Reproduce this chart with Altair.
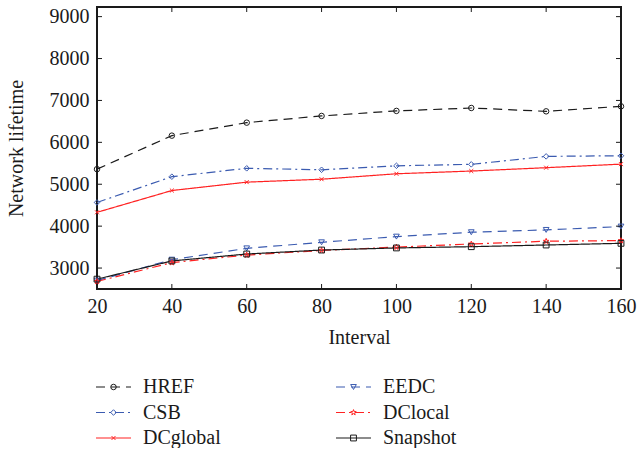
import altair as alt
import pandas as pd

intervals = [20, 40, 60, 80, 100, 120, 140, 160]
series_names = ["HREF", "CSB", "DCglobal", "EEDC", "DClocal", "Snapshot"]
href = [5360, 6160, 6470, 6630, 6750, 6820, 6740, 6860]
csb = [4565, 5180, 5380, 5345, 5440, 5475, 5665, 5680]
dcglobal = [4330, 4850, 5050, 5120, 5250, 5315, 5395, 5480]
eedc = [2700, 3200, 3470, 3615, 3750, 3855, 3910, 3990]
dclocal = [2680, 3130, 3310, 3420, 3500, 3575, 3640, 3655]
snapshot = [2735, 3170, 3335, 3430, 3480, 3510, 3550, 3590]
y_ticks = [3000, 4000, 5000, 6000, 7000, 8000, 9000]
x_ticks = [20, 40, 60, 80, 100, 120, 140, 160]

values = [href, csb, dcglobal, eedc, dclocal, snapshot]
rows = []
for name, vals in zip(series_names, values):
    for x, v in zip(intervals, vals):
        rows.append({"series": name, "interval": x, "lifetime": v})
df = pd.DataFrame(rows)

BLACK = "#1a1a1a"
BLUE = "#3b5bb0"
RED = "#ff2222"
colors = [BLACK, BLUE, RED, BLUE, RED, BLACK]
dashes = [[9, 6], [9, 4, 2, 4], [1, 0], [9, 6], [9, 4, 2, 4], [1, 0]]
STAR = "M0,-1L0.235,-0.324L0.951,-0.309L0.38,0.124L0.588,0.809L0,0.4L-0.588,0.809L-0.38,0.124L-0.951,-0.309L-0.235,-0.324Z"
XSHAPE = "M-0.7,-0.7L0.7,0.7M-0.7,0.7L0.7,-0.7"
shapes = ["circle", "diamond", XSHAPE, "triangle-down", STAR, "square"]
sizes = [30, 34, 30, 34, 55, 30]

FONT = "Liberation Serif"
FS = 20
W, H = 524, 282
XD = [20, 160]
YD = [2500, 9230]

color_s = alt.Color("series:N", scale=alt.Scale(domain=series_names, range=colors), legend=None)
dash_s = alt.StrokeDash("series:N", scale=alt.Scale(domain=series_names, range=dashes), legend=None)
shape_s = alt.Shape("series:N", scale=alt.Scale(domain=series_names, range=shapes), legend=None)
size_s = alt.Size("series:N", scale=alt.Scale(domain=series_names, range=sizes), legend=None)

axis_common = dict(tickSize=0, grid=False, domain=False, labelFlush=False, labelOverlap=False,
                   labelFont=FONT, titleFont=FONT, labelFontSize=FS, titleFontSize=FS,
                   titleFontWeight="normal", labelColor=BLACK, titleColor=BLACK, format="d")
xenc = alt.X("interval:Q", scale=alt.Scale(domain=XD, nice=False),
             axis=alt.Axis(values=x_ticks, title="Interval", labelPadding=7, titlePadding=11,
                           **axis_common))
yenc = alt.Y("lifetime:Q", scale=alt.Scale(domain=YD, nice=False, zero=False),
             axis=alt.Axis(values=y_ticks, title="Network lifetime", labelPadding=8, titlePadding=23,
                           **axis_common))

base = alt.Chart(df)
lines = base.mark_line(strokeWidth=1.2).encode(x=xenc, y=yenc, color=color_s, strokeDash=dash_s,
                                                detail="series:N")
points = base.mark_point(filled=False, strokeWidth=1, opacity=1).encode(
    x="interval:Q", y="lifetime:Q", color=color_s, shape=shape_s, size=size_s)

ytick_df = pd.DataFrame({"v": y_ticks})
xtick_df = pd.DataFrame({"v": x_ticks})
tk = dict(color=BLACK, strokeWidth=1)
yl = alt.Chart(ytick_df).mark_rule(**tk).encode(y="v:Q", x=alt.value(0), x2=alt.value(5))
yr = alt.Chart(ytick_df).mark_rule(**tk).encode(y="v:Q", x=alt.value(W - 5), x2=alt.value(W))
xb = alt.Chart(xtick_df).mark_rule(**tk).encode(x="v:Q", y=alt.value(H - 5), y2=alt.value(H))
xt = alt.Chart(xtick_df).mark_rule(**tk).encode(x="v:Q", y=alt.value(0), y2=alt.value(5))

plot = alt.layer(lines, points, yl, yr, xb, xt).properties(
    width=W, height=H, view=alt.ViewBackground(stroke=BLACK, strokeWidth=2))

# legend panel
leg_df = pd.DataFrame({"series": series_names, "idx": list(range(len(series_names)))})
LW, LH = 524, 80
leg = alt.Chart(leg_df).transform_calculate(
    col="floor(datum.idx / 3)", row="datum.idx % 3"
).transform_calculate(
    x0="datum.col * 240 - 1", x1="datum.col * 240 + 34", xm="datum.col * 240 + 16.5",
    xl="datum.col * 240 + 46", yy="datum.row * 25.5 + 25"
)
lsx = alt.Scale(domain=[0, LW], nice=False)
lsy = alt.Scale(domain=[0, LH], nice=False, reverse=True)
leg_lines = leg.mark_rule(strokeWidth=1.2).encode(
    x=alt.X("x0:Q", scale=lsx, axis=None), x2="x1:Q",
    y=alt.Y("yy:Q", scale=lsy, axis=None), color=color_s, strokeDash=dash_s)
leg_pts = leg.mark_point(filled=False, strokeWidth=1, opacity=1).encode(
    x=alt.X("xm:Q", scale=lsx, axis=None), y=alt.Y("yy:Q", scale=lsy, axis=None),
    color=color_s, shape=shape_s, size=size_s)
leg_txt = leg.mark_text(align="left", baseline="middle", font=FONT, fontSize=FS, color=BLACK).encode(
    x=alt.X("xl:Q", scale=lsx, axis=None), y=alt.Y("yy:Q", scale=lsy, axis=None), text="series:N")
legend = alt.layer(leg_lines, leg_pts, leg_txt).properties(
    width=LW, height=LH, view=alt.ViewBackground(stroke=None))

chart = alt.vconcat(plot, legend, spacing=14).properties(
    padding={"left": 5, "top": 5, "right": 0, "bottom": 0}
)

chart.save("out.html", embed_options={"renderer": "svg", "actions": False})
